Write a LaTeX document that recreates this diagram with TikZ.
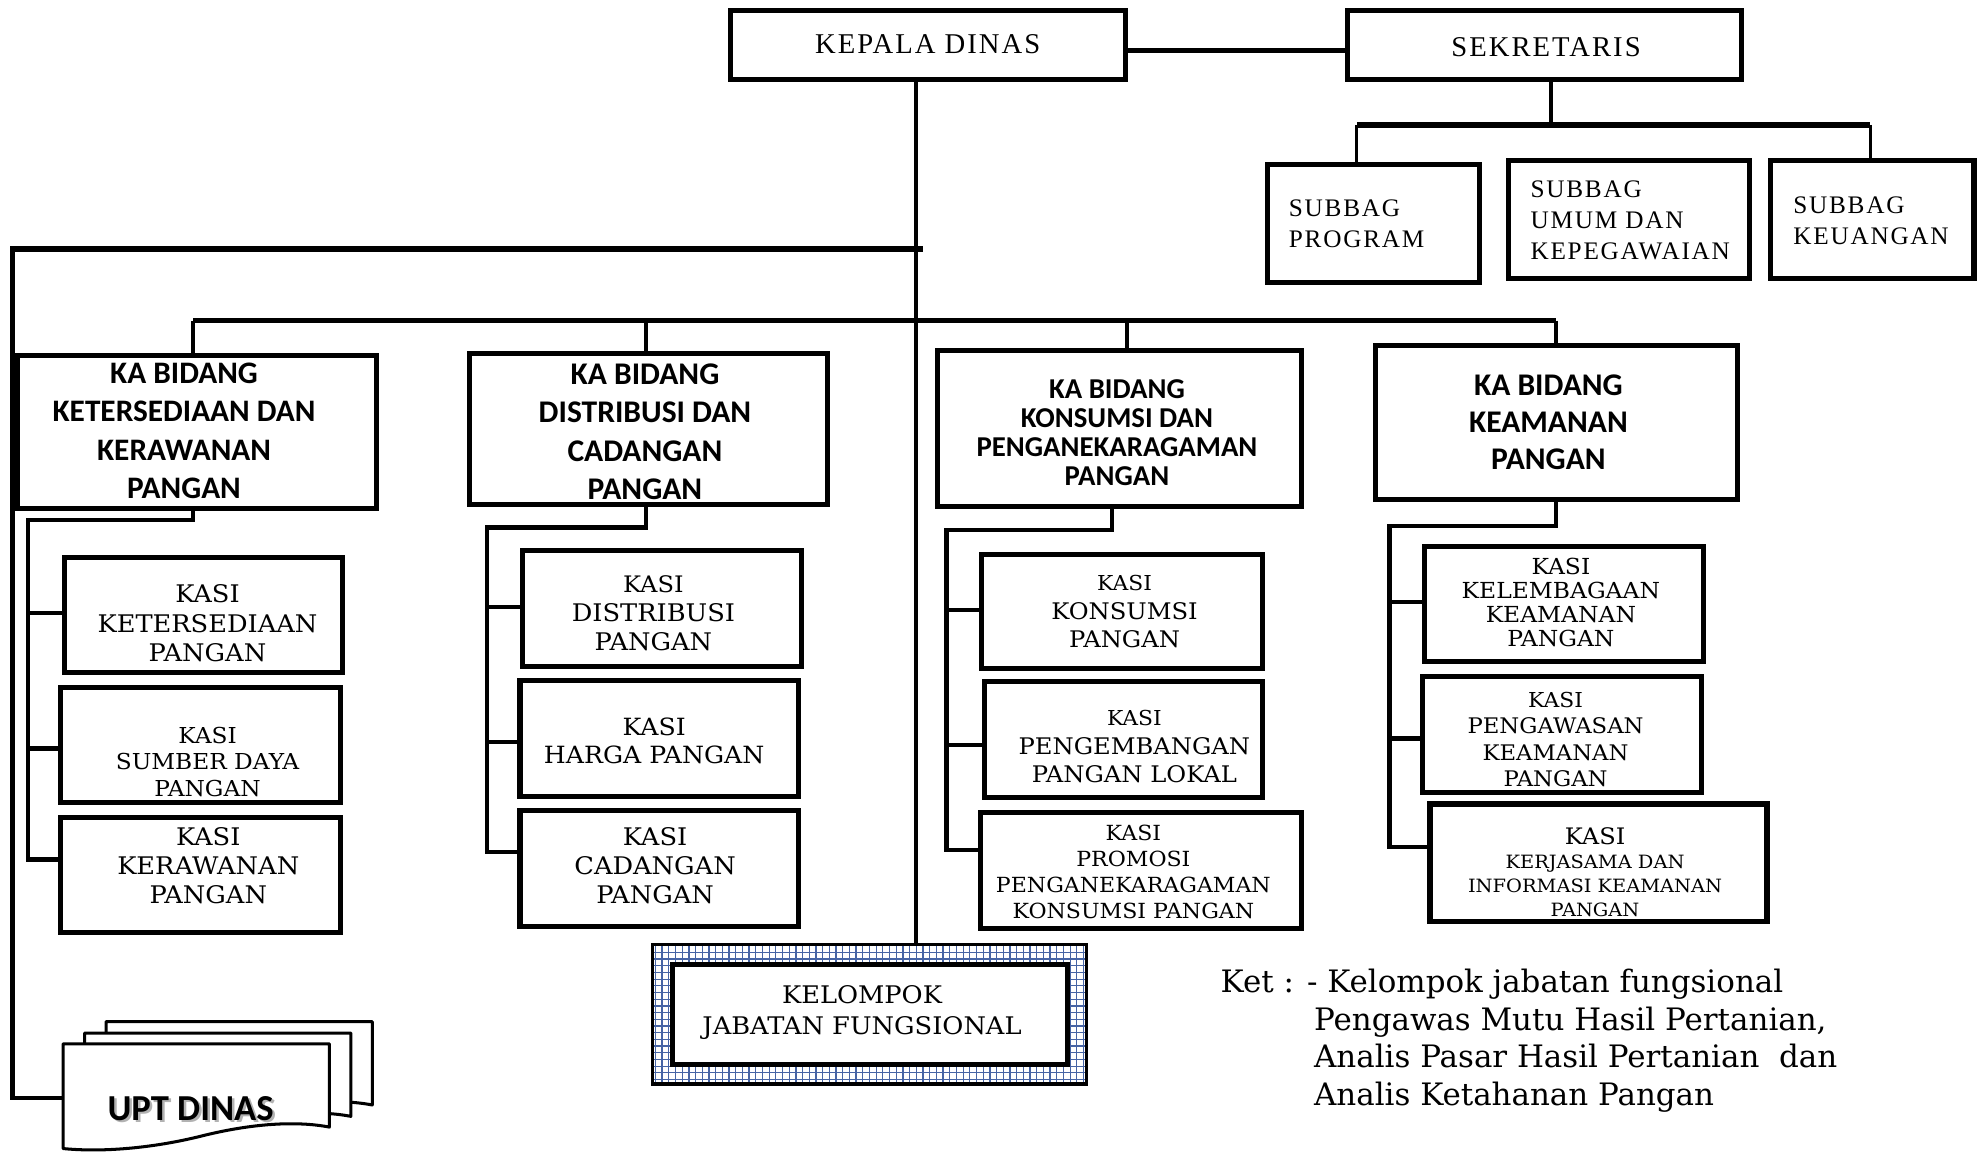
\documentclass[tikz,border=0pt]{standalone}
\usepackage{fontspec}
\setmainfont{DejaVu Serif}
\newfontfamily\kasif[FakeStretch=1.06]{DejaVu Serif}
\newfontfamily\tnrf[LetterSpace=7]{Liberation Serif}
\newfontfamily\calf{Carlito}
\newfontfamily\ketf{DejaVu Serif}
\definecolor{gridc}{RGB}{70,100,165}
\tikzset{
  bx/.style={draw, line width=4pt, fill=white, inner sep=0pt},
  ln/.style={line width=3.4pt},
  thk/.style={line width=4.6pt},
  thn/.style={line width=2.6pt},
  kasi/.style={align=center, inner sep=0pt},
  kab/.style={align=center, inner sep=0pt},
  sbt/.style={align=left, anchor=west, inner sep=0pt, font=\tnrf\fontsize{20}{24.5}\selectfont},
  doc/.style={draw, line width=2.4pt, fill=white, line join=round},
}
\begin{document}
\begin{tikzpicture}[x=1pt,y=-1pt]
\useasboundingbox (0,0) rectangle (1568,914);

% ---------- UPT DINAS documents ----------
\begin{scope}[shift={(84,809.5)}]
\draw[doc] (0,0) -- (211,0) -- (211,66) .. controls (185,61) and (150,63) .. (110,73) .. controls (70,83) and (30,86) .. (0,83) -- cycle;
\end{scope}
\begin{scope}[shift={(67,818.5)}]
\draw[doc] (0,0) -- (211,0) -- (211,66) .. controls (185,61) and (150,63) .. (110,73) .. controls (70,83) and (30,86) .. (0,83) -- cycle;
\end{scope}
\begin{scope}[shift={(50,827)}]
\draw[doc] (0,0) -- (211,0) -- (211,66) .. controls (185,61) and (150,63) .. (110,73) .. controls (70,83) and (30,86) .. (0,83) -- cycle;
\end{scope}
\node[inner sep=0pt, font=\calf\bfseries\fontsize{29}{32}\selectfont] (upt) at (151,879)
  {\rlap{\hspace{2pt}\raisebox{-2pt}{\color{black!30}UPT DINAS}}UPT DINAS};
\coordinate (uptw) at (50,870);

% ---------- top ----------
\node[bx, minimum width=313, minimum height=55] (kd) at (735.5,35.5) {};
\node[inner sep=0pt, font=\tnrf\fontsize{22.7}{26}\selectfont] (kdt) at (735,35) {KEPALA DINAS};
\node[bx, minimum width=312, minimum height=55] (sek) at (1224,35.5) {};
\node[inner sep=0pt, font=\tnrf\fontsize{22.7}{26}\selectfont] (sekt) at (1225,37) {SEKRETARIS};

\node[bx, minimum width=168, minimum height=94] (sb1) at (1088,177) {};
\node[sbt] (sb1t) at (1021,177) {SUBBAG\\PROGRAM};
\node[bx, minimum width=191, minimum height=94] (sb2) at (1290.5,174) {};
\node[sbt] (sb2t) at (1212.5,174.3) {SUBBAG\\UMUM DAN\\KEPEGAWAIAN};
\node[bx, minimum width=161, minimum height=94] (sb3) at (1483.5,174) {};
\node[sbt] (sb3t) at (1420.7,175) {SUBBAG\\KEUANGAN};

% ---------- KA BIDANG ----------
\node[bx, minimum width=284, minimum height=121] (kb1) at (156,342.5) {};
\node[kab, font=\calf\bfseries\fontsize{24.8}{30.5}\selectfont] (kb1t) at (145.8,341.5) {KA BIDANG\\KETERSEDIAAN DAN\\KERAWANAN\\PANGAN};
\node[bx, minimum width=284, minimum height=120] (kb2) at (514,340) {};
\node[kab, font=\calf\bfseries\fontsize{25}{30.5}\selectfont] (kb2t) at (511,342) {KA BIDANG\\DISTRIBUSI DAN\\CADANGAN\\PANGAN};
\node[bx, minimum width=288, minimum height=123] (kb3) at (887,339.5) {};
\node[kab, font=\calf\bfseries\fontsize{22.8}{23}\selectfont] (kb3t) at (885,343) {KA BIDANG\\KONSUMSI DAN\\PENGANEKARAGAMAN\\PANGAN};
\node[bx, minimum width=287, minimum height=122] (kb4) at (1233.5,335) {};
\node[kab, font=\calf\bfseries\fontsize{25}{29.5}\selectfont] (kb4t) at (1226.8,334.5) {KA BIDANG\\KEAMANAN\\PANGAN};

% ---------- KASI column 1 ----------
\node[bx, minimum width=220, minimum height=91] (c11) at (161,487.5) {};
\node[kasi, font=\kasif\fontsize{19.2}{23.5}\selectfont] (c11t) at (164.4,494) {KASI\\KETERSEDIAAN\\PANGAN};
\node[bx, minimum width=222, minimum height=91] (c12) at (159,590.5) {};
\node[kasi, font=\kasif\fontsize{17.4}{21}\selectfont] (c12t) at (164.4,603.5) {KASI\\SUMBER DAYA\\PANGAN};
\node[bx, minimum width=222, minimum height=91] (c13) at (159,693.5) {};
\node[kasi, font=\kasif\fontsize{19.2}{23}\selectfont] (c13t) at (165,686) {KASI\\KERAWANAN\\PANGAN};

% ---------- KASI column 2 ----------
\node[bx, minimum width=221, minimum height=92] (c21) at (524.5,482) {};
\node[kasi, font=\kasif\fontsize{19.2}{23}\selectfont] (c21t) at (517.7,486) {{\fontsize{18}{23}\selectfont KASI}\\DISTRIBUSI\\PANGAN};
\node[bx, minimum width=221, minimum height=92] (c22) at (522.5,585) {};
\node[kasi, font=\kasif\fontsize{18.8}{22}\selectfont] (c22t) at (518.3,587) {KASI\\HARGA PANGAN};
\node[bx, minimum width=221, minimum height=92] (c23) at (522.5,688) {};
\node[kasi, font=\kasif\fontsize{19.2}{23}\selectfont] (c23t) at (519,686) {KASI\\CADANGAN\\PANGAN};

% ---------- KASI column 3 ----------
\node[bx, minimum width=222, minimum height=91] (c31) at (889,484.5) {};
\node[kasi, font=\kasif\fontsize{18.1}{22.5}\selectfont] (c31t) at (891,484.6) {{\fontsize{16.3}{22.5}\selectfont KASI}\\KONSUMSI\\PANGAN};
\node[bx, minimum width=220, minimum height=92] (c32) at (890,586) {};
\node[kasi, font=\kasif\fontsize{18.1}{22.5}\selectfont] (c32t) at (898.8,591.6) {{\fontsize{16.3}{22.5}\selectfont KASI}\\PENGEMBANGAN\\PANGAN LOKAL};
\node[bx, minimum width=254, minimum height=92] (c33) at (904,690) {};
\node[kasi, font=\kasif\fontsize{16.5}{20.5}\selectfont] (c33t) at (898,691) {KASI\\PROMOSI\\PENGANEKARAGAMAN\\KONSUMSI PANGAN};

% ---------- KASI column 4 ----------
\node[bx, minimum width=221, minimum height=91] (c41) at (1239.5,478.5) {};
\node[kasi, font=\kasif\fontsize{17.5}{19}\selectfont] (c41t) at (1236.7,477.4) {KASI\\KELEMBAGAAN\\KEAMANAN\\PANGAN};
\node[bx, minimum width=221, minimum height=92] (c42) at (1237.5,582) {};
\node[kasi, font=\kasif\fontsize{17}{21}\selectfont] (c42t) at (1232.5,585.8) {{\fontsize{16.3}{21}\selectfont KASI}\\PENGAWASAN\\KEAMANAN\\PANGAN};
\node[bx, minimum width=267, minimum height=93] (c43) at (1266.5,683.5) {};
\node[kasi, font=\kasif\fontsize{14.5}{19}\selectfont] (c43t) at (1263.8,691.3) {{\fontsize{18}{19}\selectfont KASI}\\KERJASAMA DAN\\INFORMASI KEAMANAN\\PANGAN};

% ---------- KELOMPOK JABATAN FUNGSIONAL ----------
\node[inner sep=0pt, minimum width=343.4, minimum height=110.4, fill=white] (jfo) at (689,803.5) {};
\begin{scope}
  \clip (jfo.north west) rectangle (jfo.south east);
  \foreach \i in {0,...,66} \draw[gridc, line width=1.0pt] (514+\i*5.3,740) -- (514+\i*5.3,870);
  \foreach \j in {0,...,23} \draw[gridc, line width=1.0pt] (510,744+\j*5.3) -- (870,744+\j*5.3);
\end{scope}
\draw[line width=2.6pt] (jfo.north west) rectangle (jfo.south east);
\node[bx, minimum width=313, minimum height=79.5] (jf) at (689.5,804) {};
\node[kasi, font=\kasif\fontsize{19.2}{24.5}\selectfont] (jft) at (683,802) {KELOMPOK\\JABATAN FUNGSIONAL};

% ---------- Keterangan ----------
\node[anchor=west, align=left, inner sep=0pt, font=\ketf\fontsize{24.5}{29.7}\selectfont] (ket) at (967,824.5)
 {Ket : - Kelompok jabatan fungsional\\
  \hspace*{74pt}Pengawas Mutu Hasil Pertanian,\\
  \hspace*{74pt}Analis Pasar Hasil Pertanian\ \ dan\\
  \hspace*{74pt}Analis Ketahanan Pangan};

% ---------- connectors ----------
\draw[thk] ([yshift=-4.5pt]kd.east) -- ([yshift=-4.5pt]sek.west);
\coordinate (sj) at (1229,99);
\draw[ln] (sj |- sek.south) -- (sj);
\coordinate (sbl) at (1075,99);
\coordinate (sbr) at (1482,99);
\draw[thk] (sbl) -- (sbr);
\draw[thn] (sbl) -- (sbl |- sb1.north);
\draw[thn] (sbr) -- (sbr |- sb3.north);

\coordinate (tx) at (726,0);
\draw[ln] (tx |- kd.south) -- (tx |- jfo.north);
\coordinate (hl) at (8,197);
\coordinate (hr) at (731,197);
\draw[thk] (hl) -- (hr);
\coordinate (lt) at (10,197);
\draw[ln] (lt) |- (uptw);

\coordinate (h2l) at (153,254);
\coordinate (h2r) at (1233,254);
\coordinate (v2) at (512,254);
\coordinate (v3) at (893,254);
\draw[thk] (h2l) -- (h2r);
\draw[ln] (h2l) -- (h2l |- kb1.north);
\draw[ln] (v2) -- (v2 |- kb2.north);
\draw[ln] (v3) -- (v3 |- kb3.north);
\draw[ln] (h2r) -- (h2r |- kb4.north);

% column 1 bracket
\coordinate (d1) at (153,412);
\coordinate (b1) at (22,412);
\coordinate (e1) at (22,681);
\coordinate (m11) at (22,485.4);
\coordinate (m12) at (22,593);
\draw[ln] (d1 |- kb1.south) -- (d1) -- (b1) -- (e1) -- (e1 -| c13.west);
\draw[ln] (m11) -- (m11 -| c11.west);
\draw[ln] (m12) -- (m12 -| c12.west);
% column 2 bracket
\coordinate (d2) at (512,418);
\coordinate (b2) at (385.6,418);
\coordinate (e2) at (385.6,674.8);
\coordinate (m21) at (385.6,480.7);
\coordinate (m22) at (385.6,587.7);
\draw[ln] (d2 |- kb2.south) -- (d2) -- (b2) -- (e2) -- (e2 -| c23.west);
\draw[ln] (m21) -- (m21 -| c21.west);
\draw[ln] (m22) -- (m22 -| c22.west);
% column 3 bracket
\coordinate (d3) at (881,420);
\coordinate (b3) at (750,420);
\coordinate (e3) at (750,673.5);
\coordinate (m31) at (750,483.3);
\coordinate (m32) at (750,590.3);
\draw[ln] (d3 |- kb3.south) -- (d3) -- (b3) -- (e3) -- (e3 -| c33.west);
\draw[ln] (m31) -- (m31 -| c31.west);
\draw[ln] (m32) -- (m32 -| c32.west);
% column 4 bracket
\coordinate (d4) at (1233,417);
\coordinate (b4) at (1101,417);
\coordinate (e4) at (1101,670.8);
\coordinate (m41) at (1101,476.7);
\coordinate (m42) at (1101,585);
\draw[ln] (d4 |- kb4.south) -- (d4) -- (b4) -- (e4) -- (e4 -| c43.west);
\draw[ln] (m41) -- (m41 -| c41.west);
\draw[ln] (m42) -- (m42 -| c42.west);
\end{tikzpicture}
\end{document}
